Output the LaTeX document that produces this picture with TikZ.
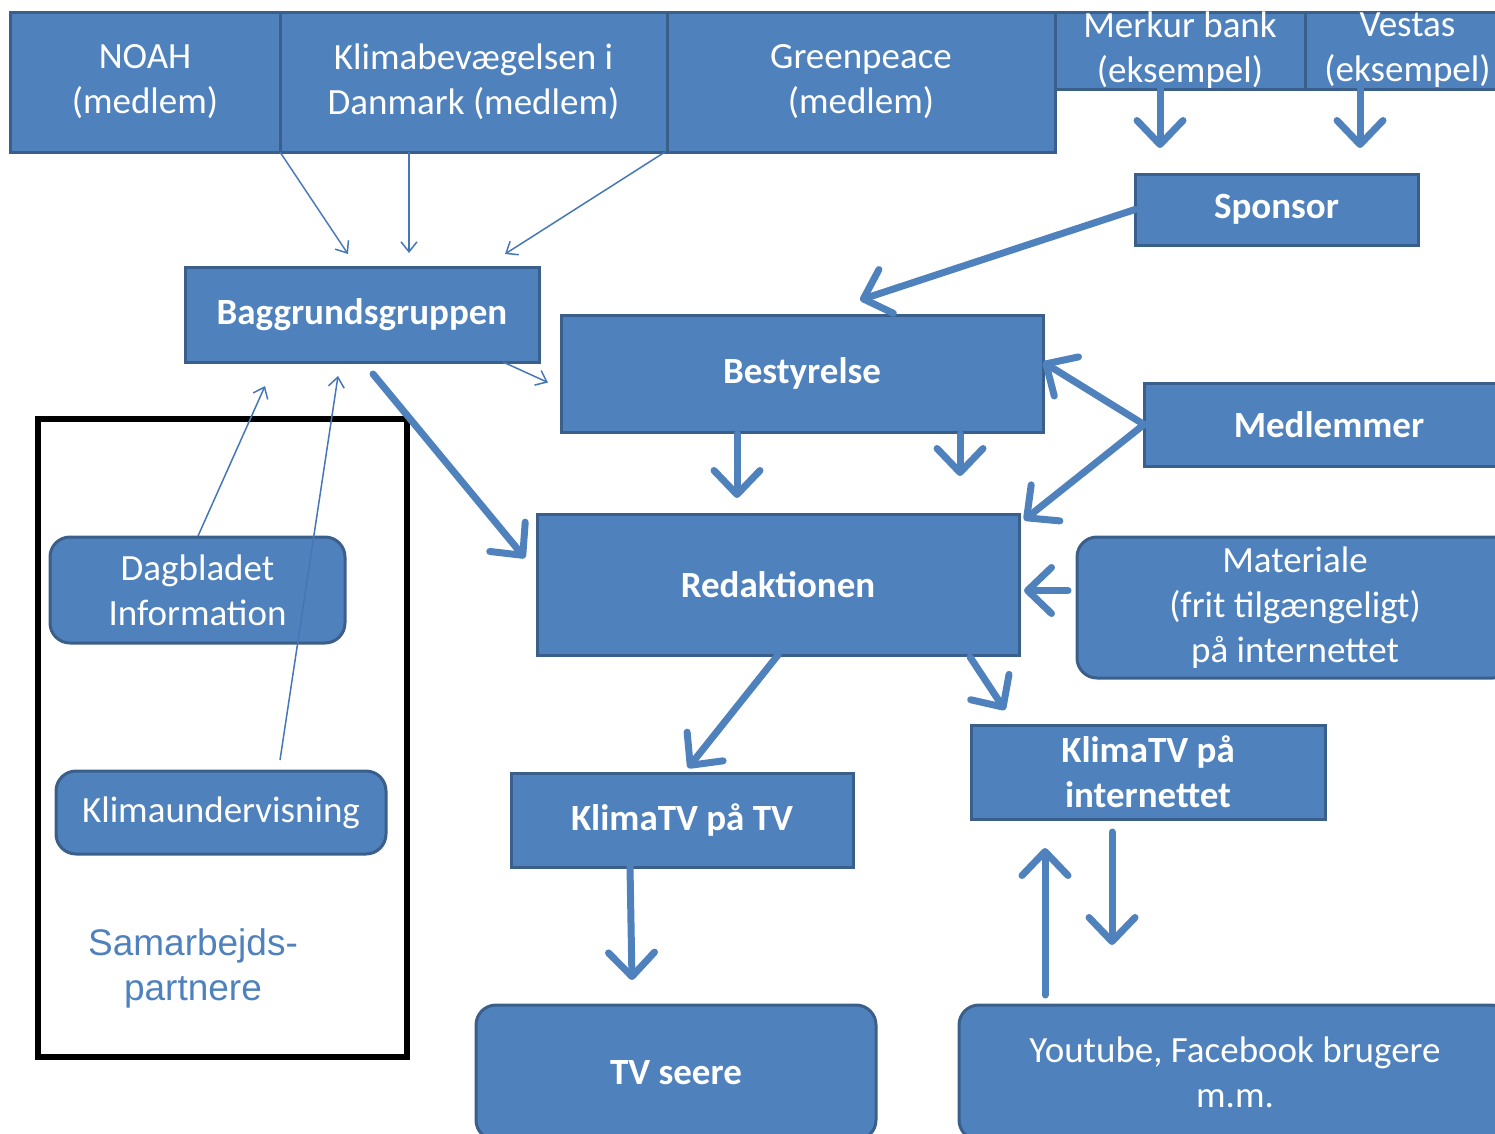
\documentclass[tikz,border=0pt]{standalone}
\usepackage{fontspec}
\setmainfont{Carlito}
\newfontfamily\arialfont{Liberation Sans}
\usetikzlibrary{arrows.meta,calc}
\definecolor{boxfill}{HTML}{4F81BD}
\definecolor{boxline}{HTML}{3A5F8B}
\definecolor{thinline}{HTML}{4577B6}
\tikzset{
  box/.style={draw=boxline, fill=boxfill, line width=3pt, text=white, align=center,
    inner sep=0pt, outer sep=0pt, anchor=north west, font=\fontsize{37}{45}\selectfont},
  boldbox/.style={box, font=\fontsize{37}{45}\selectfont\bfseries},
  rbox/.style={box, rounded corners=20pt},
  bigarrow/.style={draw=boxfill, line width=7pt, line cap=round,
    -{Straight Barb[length=24pt,width=46pt,round]}},
  thinarrow/.style={draw=thinline, line width=1.5pt,
    -{Straight Barb[length=10pt,width=16pt]}},
}
\begin{document}
\begin{tikzpicture}[x=1pt,y=-1pt]
\useasboundingbox (0,0) rectangle (1495,1133);
\clip (0,0) rectangle (1495,1133);
% partner frame
\draw[black, line width=6pt] (38,419) rectangle (407,1057);
\node[text=boxfill, font=\arialfont\fontsize{37}{45}\selectfont, align=center] (sam) at (193,968) {Samarbejds-\\partnere};
% top row
\node[box, minimum width=270, minimum height=140] (noah) at (10,12) {NOAH\\(medlem)};
\node[box, minimum width=387, minimum height=140] (klima) at (280,12) {Klimabevægelsen i\\Danmark (medlem)};
\node[box, minimum width=388, minimum height=140] (green) at (667,12) {Greenpeace\\(medlem)};
\node[box, minimum width=250, minimum height=77] (merkur) at (1055,12) {Merkur bank\\(eksempel)};
\node[box, minimum width=205, minimum height=77] (vestas) at (1305,12) {Vestas\\(eksempel)};
% other boxes
\node[boldbox, minimum width=283, minimum height=71] (sponsor) at (1135,174) {Sponsor};
\node[boldbox, minimum width=354, minimum height=95] (bagg) at (185,267) {Baggrundsgruppen};
\node[boldbox, minimum width=482, minimum height=117] (best) at (561,315) {Bestyrelse};
\node[boldbox, minimum width=370, minimum height=83] (medl) at (1144,383) {Medlemmer};
\node[boldbox, minimum width=482, minimum height=141] (red) at (537,514) {Redaktionen};
\node[rbox, minimum width=436, minimum height=141] (mat) at (1077,537) {Materiale\\(frit tilgængeligt)\\på internettet};
\node[rbox, minimum width=295, minimum height=106] (dag) at (50,537) {Dagbladet\\Information};
\node[rbox, minimum width=330, minimum height=83] (kund) at (56,771) {Klimaundervisning};
\node[boldbox, minimum width=342, minimum height=94] (ktv) at (511,773) {KlimaTV på TV};
\node[boldbox, minimum width=354, minimum height=94] (kint) at (971,725) {KlimaTV på\\internettet};
\node[rbox, minimum width=400, minimum height=135, font=\fontsize{37}{45}\selectfont\bfseries] (tvs) at (476,1005) {TV seere};
\node[rbox, minimum width=552, minimum height=135] (yt) at (959,1005) {Youtube, Facebook brugere\\m.m.};
% thin arrows
\draw[thinarrow] (noah.south east) -- ($(bagg.north west)+(163,-13)$);
\draw[thinarrow] ($(klima.south west)+(129,0)$) -- ($(bagg.north west)+(224,-14)$);
\draw[thinarrow] ($(green.south west)+(-2,0)$) -- ($(bagg.north west)+(320,-13)$);
\draw[thinarrow] ($(bagg.south east)+(-36,0)$) -- ($(best.west)+(-13,9)$);
\draw[thinarrow] ($(dag.north west)+(148,-1)$) -- ($(bagg.south west)+(80,24)$);
\draw[thinarrow] ($(kund.north west)+(224,-11)$) -- ($(bagg.south west)+(153,14)$);
% thick arrows
\draw[bigarrow] ($(merkur.south west)+(105,-6)$) -- ($(merkur.south west)+(105,59)$);
\draw[bigarrow] ($(vestas.south west)+(55,-6)$) -- ($(vestas.south west)+(55,59)$);
\draw[bigarrow] (sponsor.west) -- ($(best.north)+(58,-15)$);
\draw[bigarrow] ($(bagg.south west)+(188,12)$) -- ($(red.north west)+(-12,44)$);
\draw[bigarrow] ($(best.south west)+(176,2)$) -- ($(red.north west)+(200,-16)$);
\draw[bigarrow] ($(best.south west)+(399,2)$) -- ($(best.south west)+(399,44)$);
\draw[bigarrow] (medl.west) -- ($(best.north east)+(0,47)$);
\draw[bigarrow] (medl.west) -- ($(red.north east)+(5,6)$);
\draw[bigarrow] ($(mat.west)+(-9,-17)$) -- ($(red.east)+(5,6)$);
\draw[bigarrow] (red.south) -- ($(ktv.north west)+(177,-5)$);
\draw[bigarrow] ($(red.south east)+(-49,2)$) -- ($(kint.north west)+(34,-15)$);
\draw[bigarrow] ($(ktv.south west)+(119,0)$) -- ($(ktv.south west)+(121,113)$);
\draw[bigarrow] ($(yt.north west)+(86,-10)$) -- ($(kint.south west)+(74,29)$);
\draw[bigarrow] ($(kint.south west)+(141,13)$) -- ($(kint.south west)+(141,126)$);
\end{tikzpicture}
\end{document}
